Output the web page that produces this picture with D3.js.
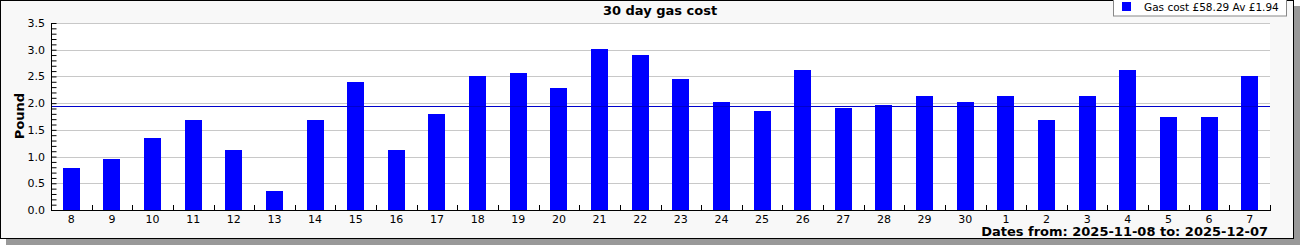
<!DOCTYPE html>
<html>
<head>
<meta charset="utf-8">
<script src="https://cdn.jsdelivr.net/npm/d3@7"></script>
<style>
  body { margin: 0; background: #fff; }
  svg { display: block; font-family: "DejaVu Sans", sans-serif; }
</style>
</head>
<body>
<svg width="1300" height="245"></svg>
<script>
// day labels along the bottom
const days = ["8","9","10","11","12","13","14","15","16","17","18","19","20","21","22","23",
              "24","25","26","27","28","29","30","1","2","3","4","5","6","7"];
// daily gas cost in pounds
const cost = [0.79,0.95,1.35,1.68,1.12,0.36,1.68,2.40,1.12,1.80,2.51,2.56,2.28,3.01,2.90,2.45,
              2.02,1.85,2.62,1.91,1.97,2.13,2.02,2.13,1.68,2.13,2.62,1.74,1.74,2.51];
const total = 58.29;
const average = 1.94;
const yTicks = [0,0.5,1,1.5,2,2.5,3,3.5];

const svg = d3.select("svg");
const margin = {top: 23, left: 51, right: 30, bottom: 35};
const width = 1270 - margin.left;
const height = 210 - margin.top;

// frame with shadow
svg.append("rect").attr("x", 6).attr("y", 6).attr("width", 1294).attr("height", 239).attr("fill", "#999");
svg.append("rect").attr("x", 0.5).attr("y", 0.5).attr("width", 1293).attr("height", 238)
    .attr("fill", "#f8f8f8").attr("stroke", "#000");

const g = svg.append("g").attr("transform", `translate(${margin.left},${margin.top})`);

const x = d3.scaleBand().domain(days).range([0, width]).paddingInner(0.58).paddingOuter(0.29);
const xb = d3.scaleBand().domain(days).range([0, width]);
const y = d3.scaleLinear().domain([0, 3.5]).range([height, 0]);

g.append("rect").attr("width", width).attr("height", height).attr("fill", "#fff");

// grid
g.selectAll(".grid").data(yTicks.slice(1)).enter().append("line")
    .attr("x1", 0).attr("x2", width)
    .attr("y1", d => Math.round(y(d)) + 0.5).attr("y2", d => Math.round(y(d)) + 0.5)
    .attr("stroke", "#c8c8c8");

// bars
g.selectAll(".bar").data(cost).enter().append("rect")
    .attr("x", (d, i) => Math.round(x(days[i])))
    .attr("width", Math.round(x.bandwidth()))
    .attr("y", d => Math.round(y(d)))
    .attr("height", d => height - Math.round(y(d)))
    .attr("fill", "#0000ff");

// average line
g.append("line").attr("x1", 0).attr("x2", width)
    .attr("y1", Math.round(y(average)) + 0.5).attr("y2", Math.round(y(average)) + 0.5)
    .attr("stroke", "#0000cc");

// y axis (ticks inward)
const yAxis = g.append("g").attr("transform", "translate(0.5,0)")
    .call(d3.axisRight(y).tickValues(d3.range(0, 3.51, 0.1)).tickSize(5).tickFormat(""));
yAxis.select(".domain").attr("d", `M0,0V${height}`);
g.selectAll(".ylab").data(yTicks).enter().append("text")
    .attr("x", -6).attr("y", d => y(d) + 4)
    .attr("text-anchor", "end").attr("font-size", 11).attr("fill", "#000")
    .text(d => d.toFixed(1));

// x axis
g.append("line").attr("x1", 0).attr("x2", width + 1)
    .attr("y1", height + 0.5).attr("y2", height + 0.5).attr("stroke", "#000");
g.selectAll(".xtick").data(days.slice(1).concat(["end"])).enter().append("line")
    .attr("x1", (d, i) => Math.round(xb.step() * (i + 1)) + 0.5)
    .attr("x2", (d, i) => Math.round(xb.step() * (i + 1)) + 0.5)
    .attr("y1", height).attr("y2", height - 5).attr("stroke", "#000");
g.selectAll(".xlab").data(days).enter().append("text")
    .attr("x", d => xb(d) + xb.bandwidth() / 2)
    .attr("y", height + 13)
    .attr("text-anchor", "middle").attr("font-size", 11).attr("fill", "#000")
    .text(d => d);

// titles
svg.append("text").attr("x", 660).attr("y", 15).attr("text-anchor", "middle")
    .attr("font-size", 13).attr("font-weight", "bold").text("30 day gas cost");
svg.append("text").attr("transform", "translate(24,116) rotate(-90)")
    .attr("text-anchor", "middle").attr("font-size", 13).attr("font-weight", "bold").text("Pound");
svg.append("text").attr("x", 1268).attr("y", 236).attr("text-anchor", "end")
    .attr("font-size", 13).attr("font-weight", "bold").text("Dates from: 2025-11-08 to: 2025-12-07");

// legend
const lg = svg.append("g");
lg.append("rect").attr("x", 1113.5).attr("y", -2).attr("width", 173).attr("height", 18)
    .attr("fill", "#fff").attr("stroke", "#888");
lg.append("rect").attr("x", 1122).attr("y", 2).attr("width", 9).attr("height", 9).attr("fill", "#0000ff");
lg.append("text").attr("x", 1144).attr("y", 11).attr("font-size", 10.5)
    .text(`Gas cost £${total.toFixed(2)} Av £${average.toFixed(2)}`);
</script>
</body>
</html>
